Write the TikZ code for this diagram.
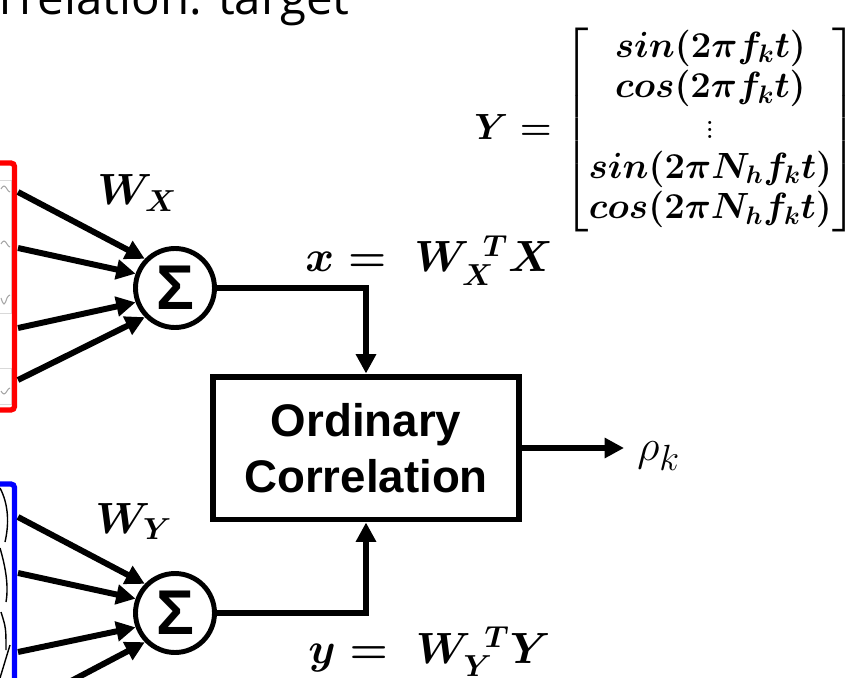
\documentclass[tikz,border=0pt]{standalone}
\usepackage{amsmath,amssymb,bm}
\usepackage{fontspec}
\newfontfamily\arialfont{Liberation Sans}
\newfontfamily\slidefont{Open Sans}
\usepackage{tikz}
\usetikzlibrary{positioning,arrows.meta,calc}

\begin{document}
\begin{tikzpicture}[x=0.02cm, y=-0.02cm, >={Triangle[length=11pt,width=11pt]},
  every node/.style={inner sep=0pt},
  eqn/.style={font=\boldmath\fontsize{23}{27}\selectfont},
  sumcirc/.style={draw, circle, line width=2.8pt, minimum size=1.58cm,
        font=\arialfont\bfseries\fontsize{36}{36}\selectfont},
  wire/.style={->, line width=3.4pt}]
  \useasboundingbox (0,0) rectangle (854,678);
  \clip (0,0) rectangle (854,678);
  \def\bw{6.11cm}
  \def\bh{2.86cm}

  % slide title, cut by the frame
  \node[anchor=base east, font=\slidefont\fontsize{27}{30}\selectfont] (title) at (350,15)
        {Correlation: target};

  % input signals
  \draw[gray!30, line width=0.5pt] (-20,180) rectangle (11,313);
  \draw[gray!30, line width=0.5pt] (-20,368) rectangle (11,404);
  \draw[gray!70, line width=0.6pt] (1,189) sin (4,186) cos (7,189) sin (10,192);
  \draw[gray!70, line width=0.6pt] (1,244) sin (4,241) cos (7,244) sin (10,247);
  \draw[gray!70, line width=0.6pt] (1,298) sin (4,304) cos (7,298) sin (10,295);
  \draw[gray!70, line width=0.6pt] (1,391) sin (4,394) cos (7,391) sin (10,388);
  \draw[red, line width=3pt, rounded corners=2pt] (-40,163) rectangle (14.5,410);

  \draw[line width=0.8pt] (0,488) .. controls (9,505) and (9,525) .. (5,542);
  \draw[line width=0.8pt] (0,548) .. controls (5,565) and (9,585) .. (6,602);
  \draw[line width=0.8pt] (1,612) .. controls (6,628) .. (6,650);
  \draw[line width=0.8pt] (10,645) -- (0,678);
  \draw[blue, line width=3pt, rounded corners=2pt] (-40,484) rectangle (14.5,760);

  \coordinate (inx1) at (18,192);
  \coordinate (inx2) at (18,248);
  \coordinate (inx3) at (18,328);
  \coordinate (inx4) at (18,380);
  \coordinate (iny1) at (18,517);
  \coordinate (iny2) at (18,573);
  \coordinate (iny3) at (18,652);
  \coordinate (iny4) at (18,709);

  % weighted sums
  \node[sumcirc] (sumx) at (175,288) {Σ};
  \node[sumcirc] (sumy) at (175,613) {Σ};

  \node[eqn, anchor=base west] (wx) at (97,205) {$W_X$};
  \node[eqn, anchor=base west] (wy) at (95,533) {$W_Y$};

  \draw[wire] (inx1) -- (sumx.136);
  \draw[wire] (inx2) -- (sumx.160);
  \draw[wire] (inx3) -- (sumx.200);
  \draw[wire] (inx4) -- (sumx.224);
  \draw[wire] (iny1) -- (sumy.136);
  \draw[wire] (iny2) -- (sumy.160);
  \draw[wire] (iny3) -- (sumy.200);
  \draw[wire] (iny4) -- (sumy.224);

  % correlation block
  \node[draw, line width=3.4pt, minimum width=\bw, minimum height=\bh, align=center,
        font=\arialfont\bfseries\fontsize{26}{32}\selectfont] (corr) at (366,448)
        {Ordinary\\Correlation};
  \coordinate (rhoin) at (624,448);
  \node[anchor=base west, font=\fontsize{31}{34}\selectfont] (rho) at (637,460) {$\rho_k$};

  \draw[wire] (sumx) -| (corr);
  \draw[wire] (sumy) -| (corr);
  \draw[wire] (corr) -- (rhoin);

  \node[eqn, anchor=base west] (xlab) at (305,272) {$x =\; W_X^{\kern8pt T} X$};
  \node[eqn, anchor=base west] (ylab) at (308,663) {$y =\; W_Y^{\kern8pt T} Y$};

  % reference matrix
  \node[anchor=west, font=\boldmath\fontsize{21.5}{23}\selectfont] (ymat) at (474,130)
        {$Y = \begin{bmatrix} sin(2\pi f_kt)\\ cos(2\pi f_kt)\\ \vdots\\
          sin(2\pi N_hf_kt)\\ cos(2\pi N_hf_kt) \end{bmatrix}$};
\end{tikzpicture}
\end{document}
